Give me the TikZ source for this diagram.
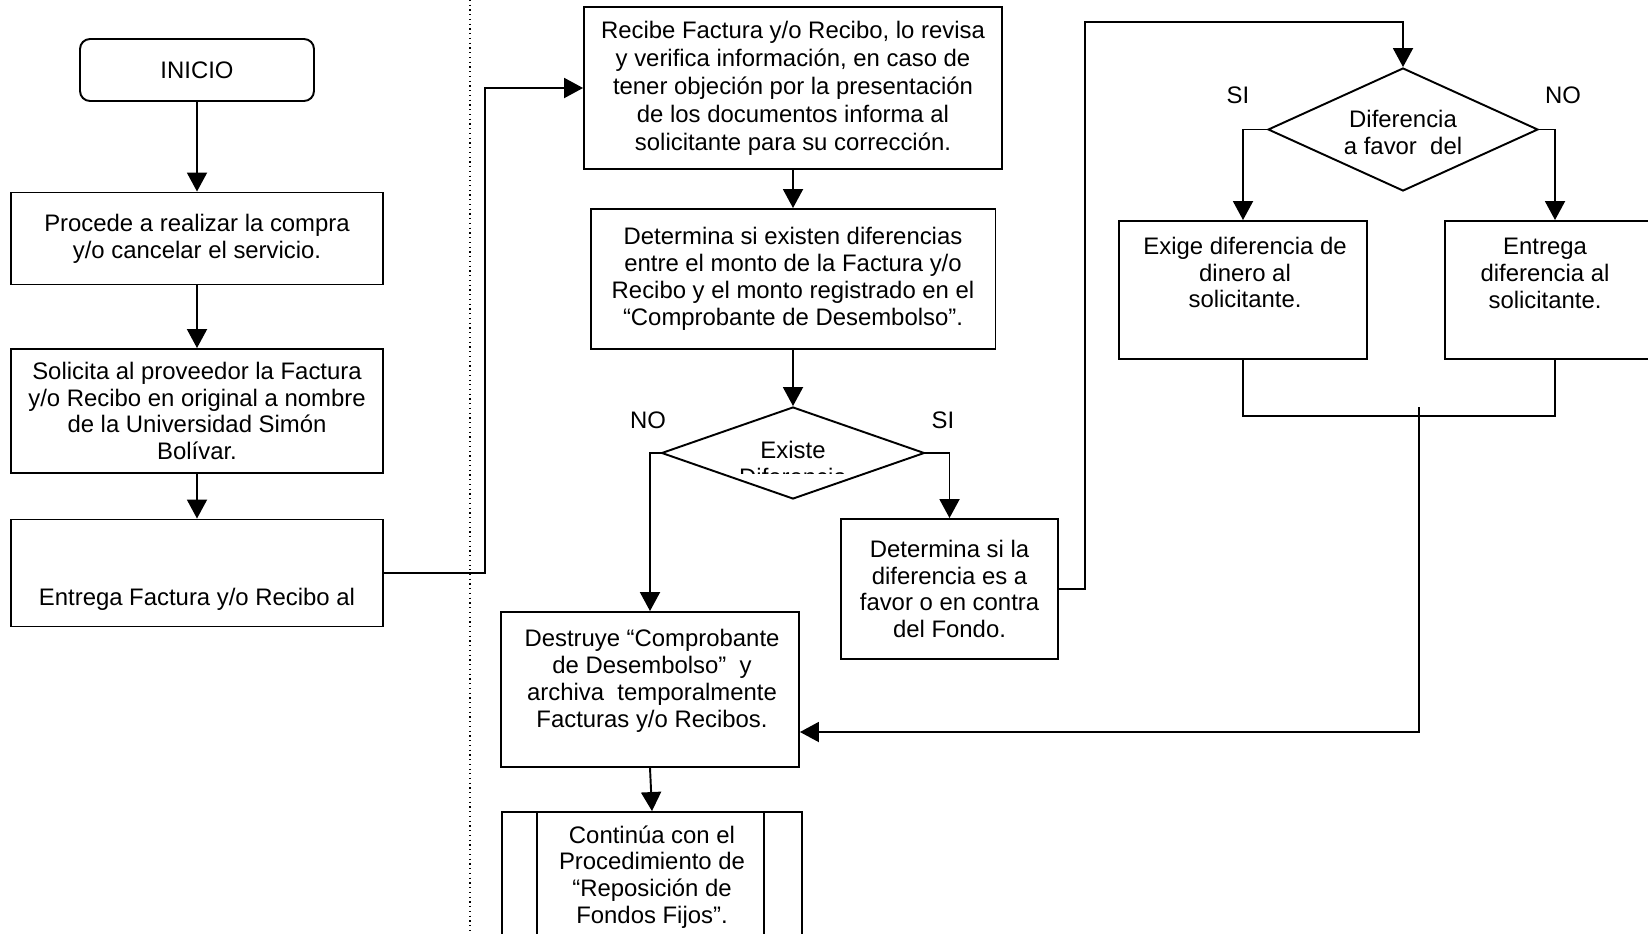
\documentclass[tikz,border=0pt]{standalone}
\usepackage{fontspec}
\setmainfont{Liberation Sans}
\usetikzlibrary{arrows.meta,shapes.geometric}

\begin{document}
\begin{tikzpicture}[x=0.02cm,y=-0.02cm,line width=1.1pt,
    every node/.style={font=\fontsize{13.6}{15.3}\selectfont,align=center,inner sep=0pt},
    caja/.style={draw,rectangle},
    decision/.style={draw,diamond},
    flecha/.style={-{Triangle[width=0.4cm,length=0.38cm]}}]

\useasboundingbox (0,0) rectangle (1648,933);
\clip (0,0) rectangle (1648,933);

\draw[dotted,line width=0.7pt] (470,0) -- (470,933);

\node[caja,rounded corners=0.2cm,minimum width=4.68cm,minimum height=1.24cm] (inicio) at (197,70) {INICIO};
\node[caja,minimum width=7.44cm,minimum height=1.84cm] (compra) at (197,238.5) {Procede a realizar la compra\\y/o cancelar el servicio.};
\node[caja,minimum width=7.44cm,minimum height=2.48cm] (solicita) at (197,411) {Solicita al proveedor la Factura\\y/o Recibo en original a nombre\\de la Universidad Simón\\Bolívar.};
\node[caja,minimum width=7.44cm,minimum height=2.14cm] (entrega) at (197,573) {};
\node (tentrega) at (197,599) {Entrega Factura y/o Recibo al};

\node[caja,minimum width=8.36cm,minimum height=3.24cm,font=\fontsize{13.6}{15.9}\selectfont] (recibe) at (793,88) {Recibe Factura y/o Recibo, lo revisa\\y verifica información, en caso de\\tener objeción por la presentación\\de los documentos informa al\\solicitante para su corrección.};
\node[caja,minimum width=8.10cm,minimum height=2.80cm] (determina) at (793,279) {Determina si existen diferencias\\entre el monto de la Factura y/o\\Recibo y el monto registrado en el\\“Comprobante de Desembolso”.};

\node[decision,minimum width=5.26cm,minimum height=1.84cm] (existe) at (793,453) {};
\node (texiste) at (793,450) {Existe};
\begin{scope}
  \clip (680,440) rectangle (910,473);
  \node (tdiferencia) at (793,477) {Diferencia};
\end{scope}
\node (no1) at (648,420) {NO};
\node (si1) at (943,420) {SI};

\node[caja,minimum width=5.96cm,minimum height=3.10cm] (destruye) at (650,689.5) {};
\node (tdestruye) at (652,681) {Destruye “Comprobante\\de Desembolso”~ y\\archiva~ temporalmente\\Facturas y/o Recibos.};
\node[caja,minimum width=4.34cm,minimum height=2.80cm] (favor) at (949.5,589) {Determina si la\\diferencia es a\\favor o en contra\\del Fondo.};

\node[caja,minimum width=6.00cm,minimum height=2.80cm] (continua) at (652,882) {};
\draw ([xshift=0.72cm]continua.north west) -- ([xshift=0.72cm]continua.south west);
\draw ([xshift=-0.78cm]continua.north east) -- ([xshift=-0.78cm]continua.south east);
\node (tcontinua) at (652,877) {Continúa con el\\Procedimiento de\\“Reposición de\\Fondos Fijos”.};

\node[decision,minimum width=5.40cm,minimum height=2.46cm] (dfavor) at (1403,129.5) {};
\node (tdfavor) at (1403,132.5) {Diferencia\\a favor~ del};
\node (si2) at (1238,95) {SI};
\node (no2) at (1563,95) {NO};
\node[caja,minimum width=4.96cm,minimum height=2.76cm] (exige) at (1243,290) {};
\node (texige) at (1245,272.5) {Exige diferencia de\\dinero al\\solicitante.};
\node[caja,minimum width=4.40cm,minimum height=2.76cm] (dar) at (1555,290) {};
\node (tdar) at (1545,273.5) {Entrega\\diferencia al\\solicitante.};

\coordinate (c1) at (1085,22);
\coordinate (m1) at (1419,416);
\coordinate (k1) at (0,732);

\draw[flecha] (inicio) -- (compra);
\draw[flecha] (compra) -- (solicita);
\draw[flecha] (solicita) -- (entrega);
\draw[flecha] (entrega.east) -- ++(101,0) |- (recibe.west);
\draw[flecha] (recibe) -- (determina);
\draw[flecha] (determina) -- (existe);
\draw[flecha] (existe.west) -| (destruye.north);
\draw[flecha] (existe.east) -| (favor.north);
\draw[flecha] (destruye.south) -- (continua.north);
\draw[flecha] (favor.east) -| (c1) -| (dfavor.north);
\draw[flecha] (dfavor.west) -| (exige.north);
\draw[flecha] (dfavor.east) -| (dar.north);
\draw (exige.south) |- (m1) -| (dar.south);
\draw[flecha] ([yshift=0.18cm]m1) |- (destruye.east |- k1);
\end{tikzpicture}
\end{document}
